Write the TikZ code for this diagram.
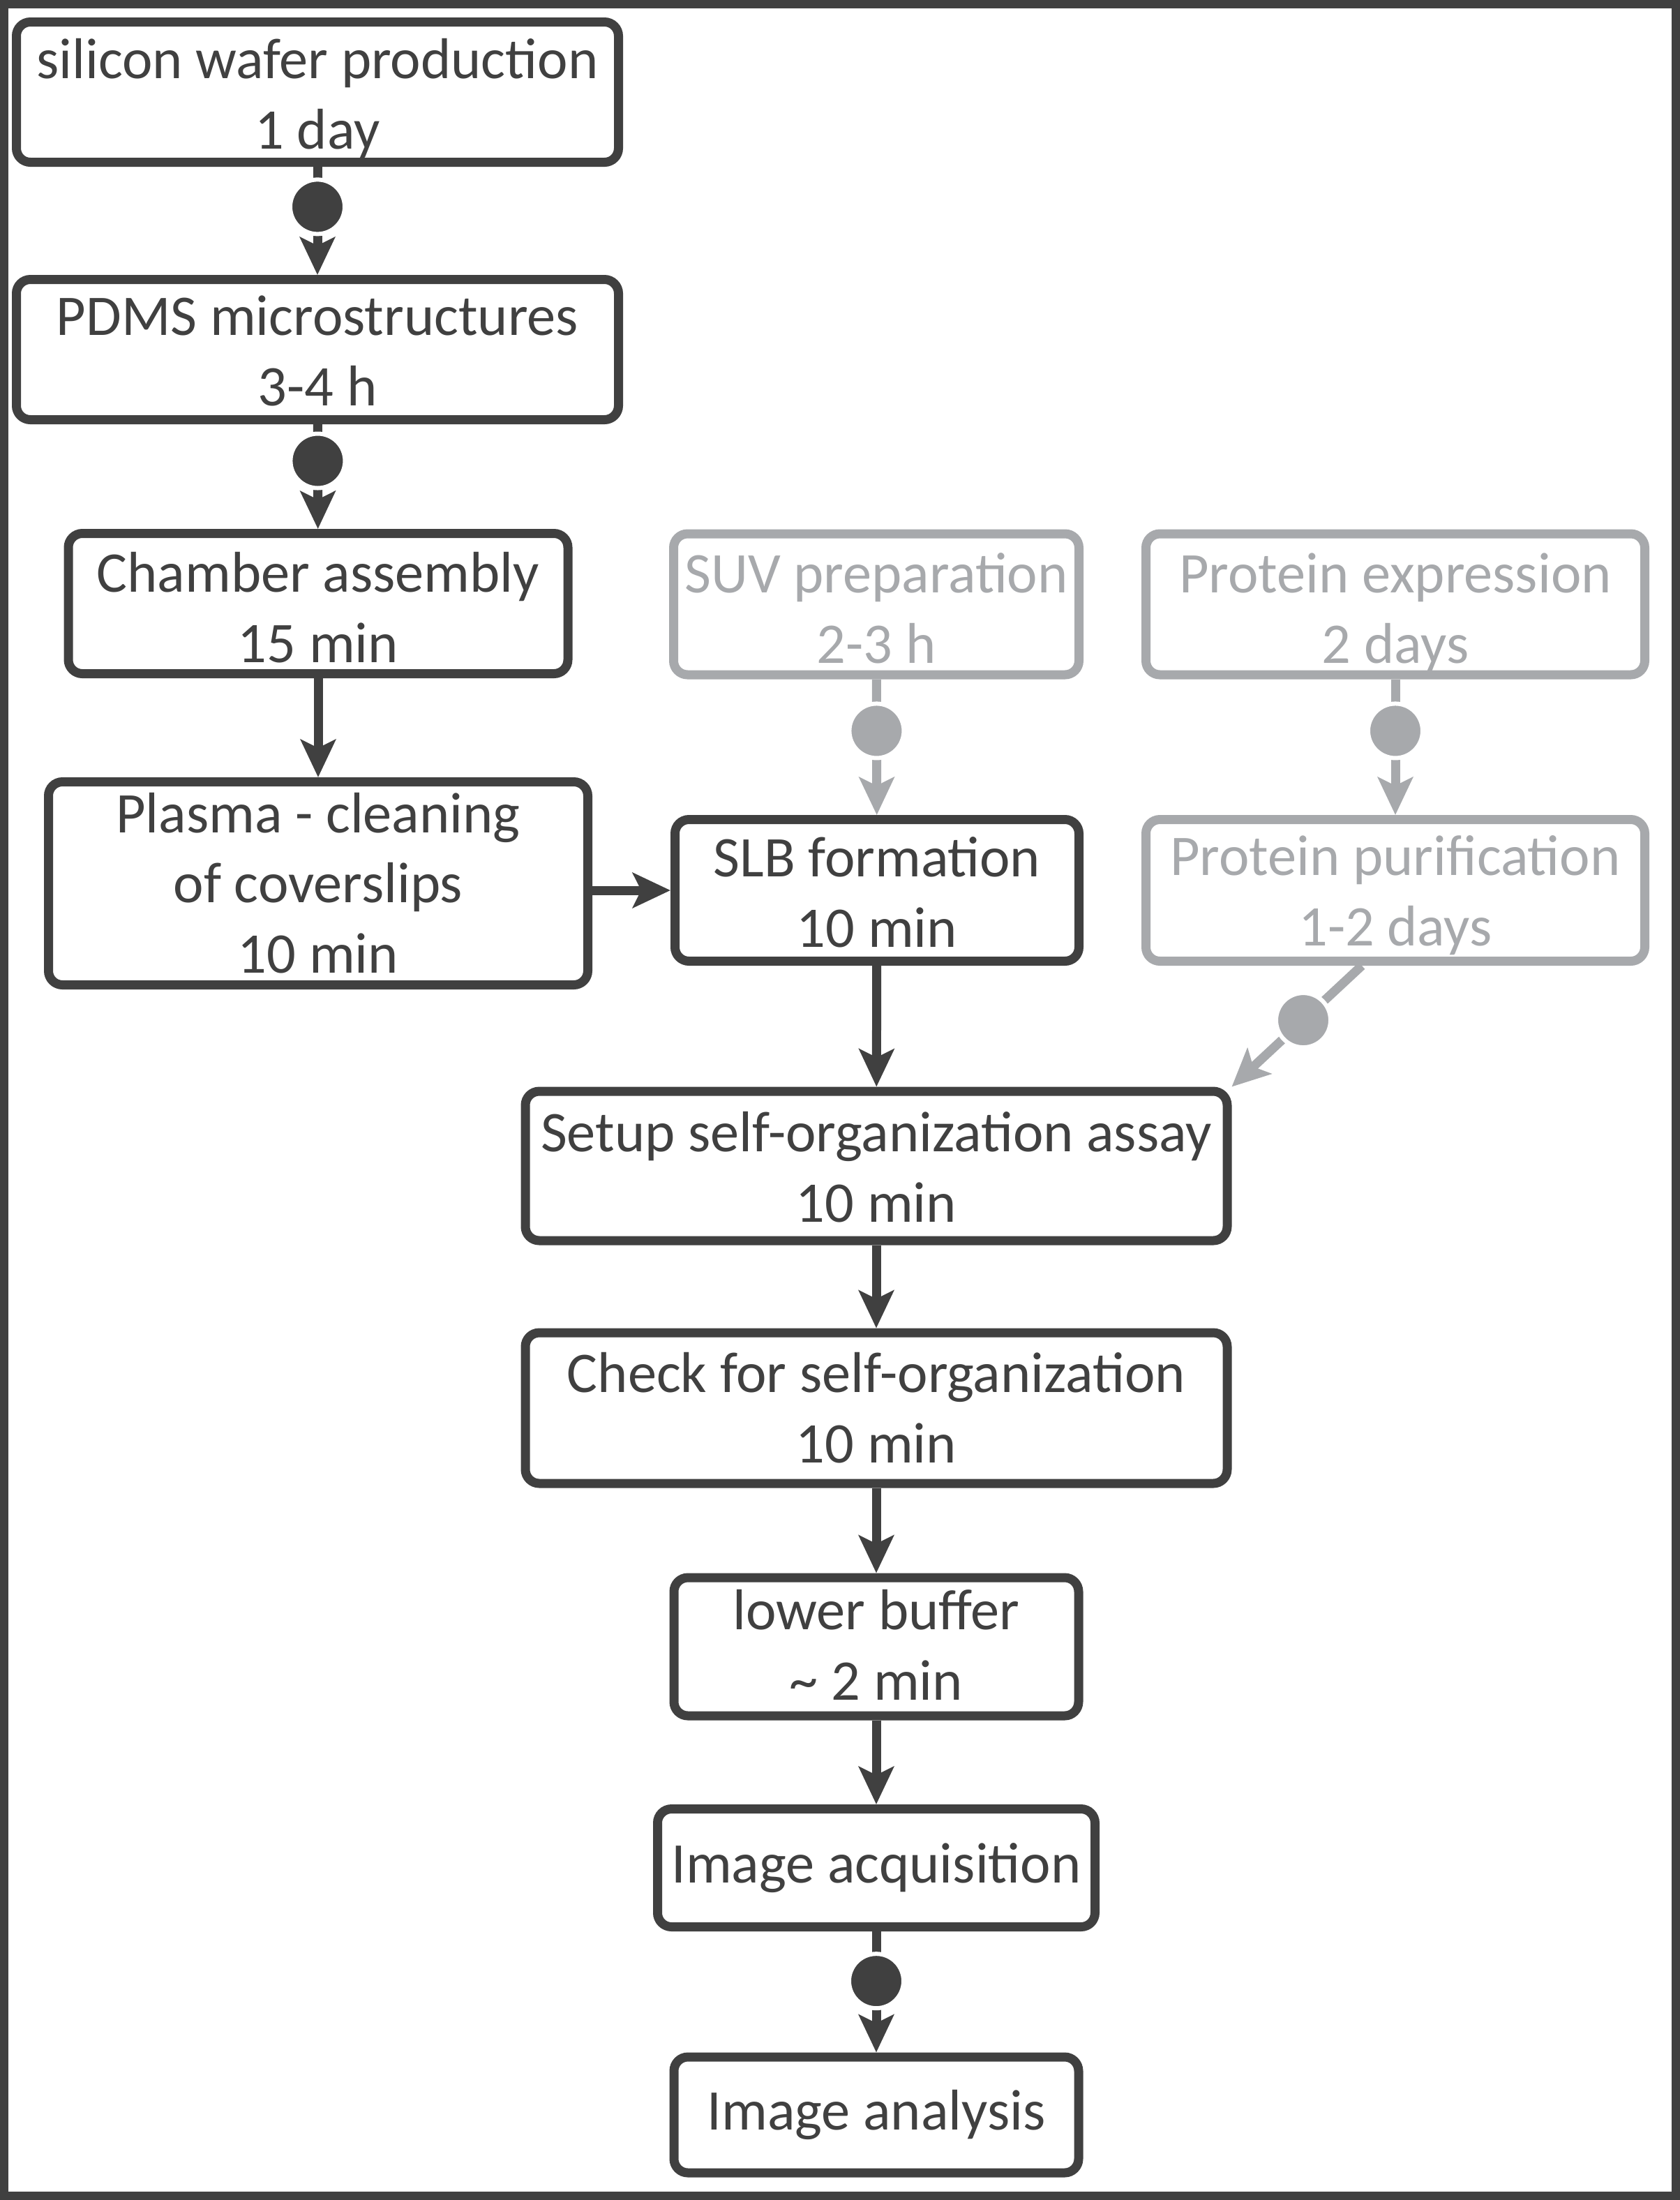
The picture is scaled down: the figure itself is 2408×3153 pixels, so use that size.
\documentclass[tikz,border=0pt]{standalone}
\usepackage{fontspec}
\setmainfont{Carlito}
\usetikzlibrary{arrows.meta}
\definecolor{darkgrey}{RGB}{64,64,64}
\definecolor{lightgrey}{RGB}{167,169,172}
\tikzset{every picture/.style={line width=3.25pt}}
\tikzset{
  stepbox/.style={draw=darkgrey, text=darkgrey, rounded corners=5pt, align=center, inner sep=0pt, font=\fontsize{20.6}{25.1}\selectfont},
  textblock/.style={text height=#1, text depth=0pt},
  textblock/.default=40.5pt,
  faintbox/.style={stepbox, draw=lightgrey, text=lightgrey},
  flow/.style={draw=darkgrey, -{Stealth[length=13.5pt,width=12.5pt,inset=3pt]}},
  faintflow/.style={flow, draw=lightgrey},
  pause/.style={circle, fill=darkgrey, draw=white, line width=1.5pt, minimum size=19.5pt, inner sep=0pt},
  faintpause/.style={pause, fill=lightgrey},
}
\begin{document}
\begin{tikzpicture}[x=0.25pt,y=0.25pt,yscale=-1,xscale=1]
\useasboundingbox (0,0) rectangle (2408,3153);
\draw [darkgrey, line width=3pt] (6,6) rectangle (2402,3147);

% left column
\node [stepbox, textblock, minimum width=215.75pt, minimum height=50.25pt] (silicon) at (455,132) {silicon wafer production\\1 day};
\node [stepbox, textblock=40pt, minimum width=215.75pt, minimum height=50.25pt] (pdms) at (455,501) {PDMS microstructures\\3-4 h};
\node [stepbox, textblock=42pt, minimum width=179pt, minimum height=50.25pt] (chamber) at (456,865) {Chamber assembly\\15 min};
\node [stepbox, textblock=64pt, minimum width=193.25pt, minimum height=72.75pt] (plasma) at (456,1266) {Plasma - cleaning\\of coverslips\\10 min};

% side branches
\node [faintbox, textblock=42pt, minimum width=145.25pt, minimum height=50.5pt] (suv) at (1256,866) {SUV preparation\\2-3 h};
\node [faintbox, textblock=42pt, minimum width=178.75pt, minimum height=50.5pt] (expr) at (2000,866) {Protein expression\\2 days};
\node [stepbox, textblock, minimum width=144.75pt, minimum height=50.75pt] (slb) at (1257,1276) {SLB formation\\10 min};
\node [faintbox, textblock=39.5pt, minimum width=178.75pt, minimum height=50.75pt] (pur) at (2000,1276) {Protein purification\\1-2 days};

% main column
\node [stepbox, textblock=40pt, minimum width=251.5pt, minimum height=53.5pt] (setup) at (1256,1671) {Setup self-organization assay\\10 min};
\node [stepbox, textblock=39pt, minimum width=251.5pt, minimum height=54pt] (check) at (1256,2018) {Check for self-organization\\10 min};
\node [stepbox, textblock=38pt, minimum width=145pt, minimum height=49.5pt] (lower) at (1256,2360) {lower buffer\\\textasciitilde{} 2 min};
\node [stepbox, minimum width=156.75pt, minimum height=42.25pt] (acq) at (1256,2677) {Image acquisition};
\node [stepbox, minimum width=145pt, minimum height=41.5pt] (analysis) at (1256,3031) {Image analysis};

\draw [flow] (silicon) -- node [pause, pos=.37] {} (pdms);
\draw [flow] (pdms) -- node [pause, pos=.35] {} (chamber);
\draw [flow] (chamber) -- (plasma);
\draw [flow] (plasma.east |- slb.west) -- (slb.west);
\draw [faintflow] (suv) -- node [faintpause, pos=.38] {} (slb);
\draw [faintflow] (expr) -- node [faintpause, pos=.38] {} (pur);
\draw [faintflow] (pur.246) -- node [faintpause, pos=.45] {} (setup.north east);
\draw [flow] (slb) -- (setup);
\draw [flow] (setup) -- (check);
\draw [flow] (check) -- (lower);
\draw [flow] (lower) -- (acq);
\draw [flow] (acq) -- node [pause, pos=.41] {} (analysis);

\end{tikzpicture}
\end{document}
